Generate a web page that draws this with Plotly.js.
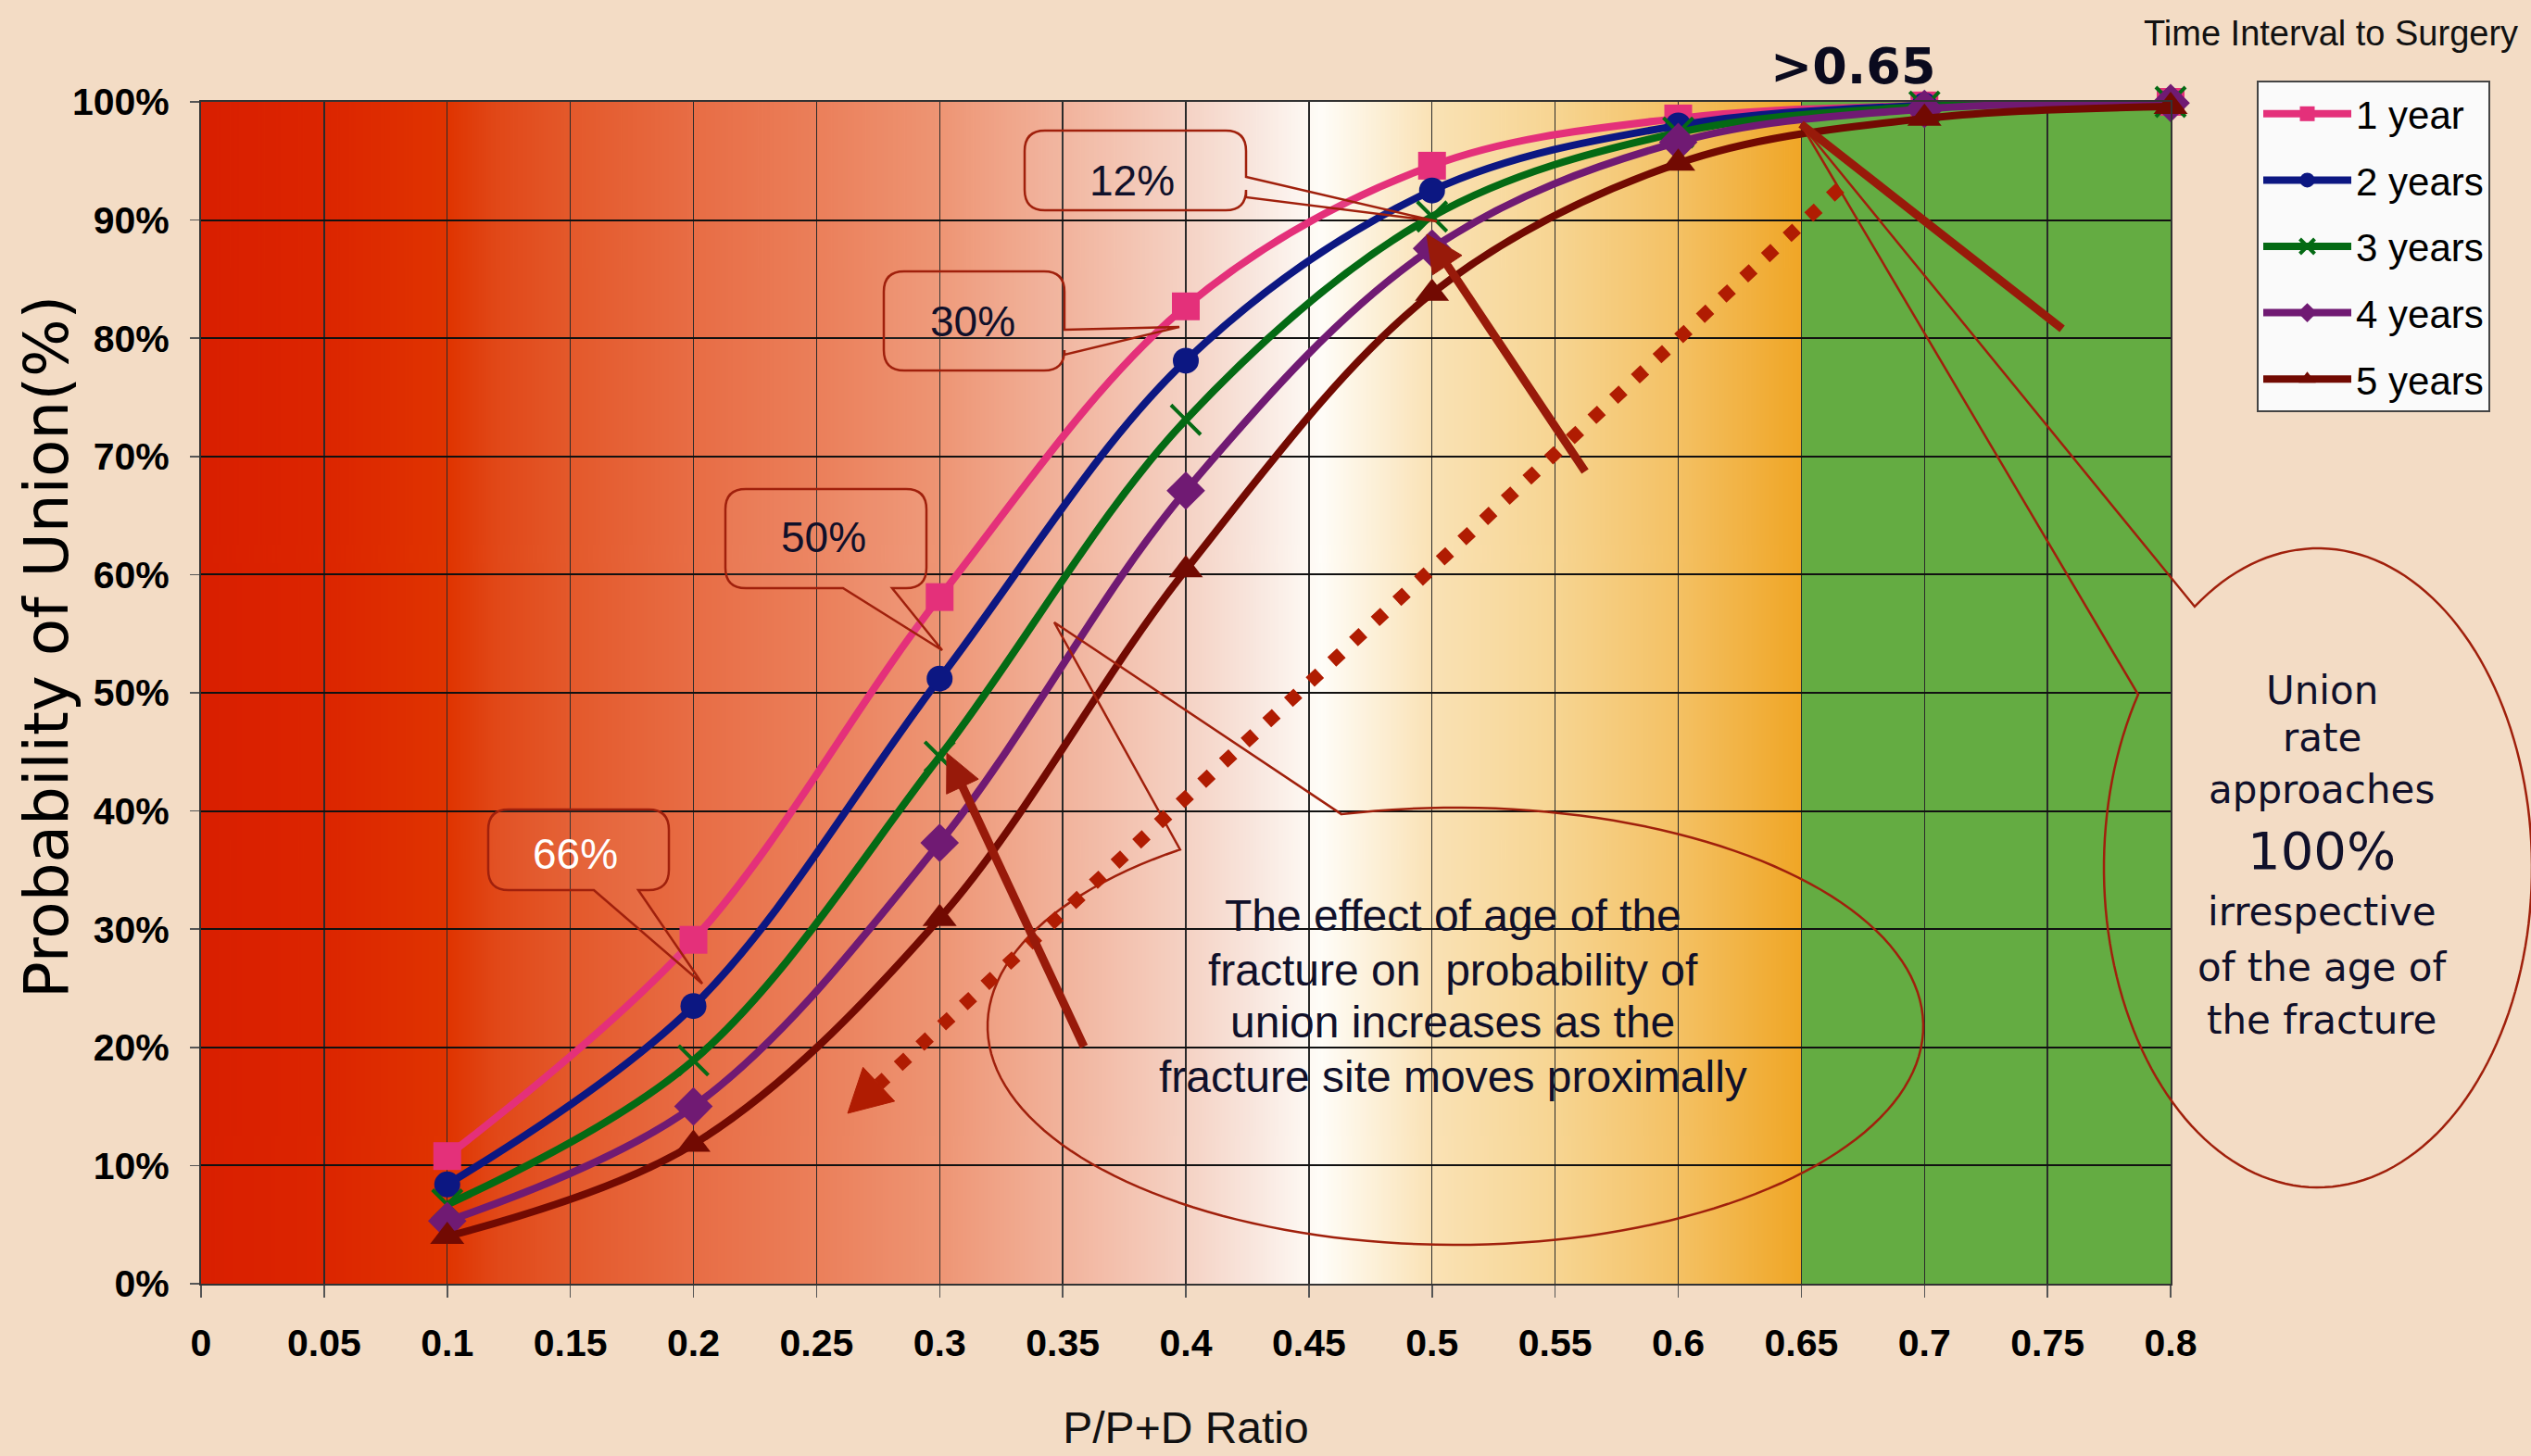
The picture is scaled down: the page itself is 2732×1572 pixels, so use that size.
<!DOCTYPE html>
<html>
<head>
<meta charset="utf-8">
<script src="https://cdn.plot.ly/plotly-3.0.1.min.js"></script>
<style>
html,body{margin:0;padding:0;background:#F3DCC5;}
#chart{width:2732px;height:1572px;}
</style>
</head>
<body>
<div id="chart"></div>
<script>
// ---------------- data ----------------
const ratio      = [0.1, 0.2, 0.3, 0.4, 0.5, 0.6, 0.7, 0.8];
const oneYear    = [10.8, 29.1, 58.1, 82.7, 94.6, 98.6, 99.7, 100];
const twoYears   = [8.4, 23.5, 51.2, 78.1, 92.5, 98.0, 99.7, 100];
const threeYears = [6.7, 18.9, 44.6, 73.1, 90.3, 97.4, 99.6, 100];
const fourYears  = [5.3, 15.0, 37.3, 67.1, 87.6, 96.6, 99.4, 99.9];
const fiveYears  = [4.0, 11.8, 30.9, 60.4, 83.8, 94.8, 98.6, 99.6];
const seriesNames = ['1 year', '2 years', '3 years', '4 years', '5 years'];

const xTickVals = [0, 0.05, 0.1, 0.15, 0.2, 0.25, 0.3, 0.35, 0.4, 0.45, 0.5, 0.55, 0.6, 0.65, 0.7, 0.75, 0.8];
const xTickText = ['0', '0.05', '0.1', '0.15', '0.2', '0.25', '0.3', '0.35', '0.4', '0.45', '0.5', '0.55', '0.6', '0.65', '0.7', '0.75', '0.8'];
const yTickVals = [0, 10, 20, 30, 40, 50, 60, 70, 80, 90, 100];
const yTickText = ['0%', '10%', '20%', '30%', '40%', '50%', '60%', '70%', '80%', '90%', '100%'];

const calloutLabels = ['12%', '30%', '50%', '66%'];
const threshold = 0.65;

// ---------------- styles ----------------
const seriesValues  = [oneYear, twoYears, threeYears, fourYears, fiveYears];
const seriesColors  = ['#E4307A', '#0C1782', '#046A14', '#701A73', '#720A02'];
const seriesSymbols = ['square', 'circle', 'x-thin', 'diamond', 'triangle-up'];
const seriesSizes   = [30, 28, 32, 32, 32];

const ARIAL  = "'Liberation Sans', Arial, sans-serif";
const WIDE   = "'DejaVu Sans', Verdana, sans-serif";
const INK = '#10102A';
const ANN = '#A0200C';
const ARROW = '#981A0A';
const DOTS = '#B01C02';

// ---------------- geometry helpers (pixel -> paper) ----------------
const M = {l: 217, r: 389, t: 110, b: 186};
const PW = 2732 - M.l - M.r;
const PH = 1572 - M.t - M.b;
const fx = x => (x - M.l) / PW;
const fy = y => (M.t + PH - y) / PH;
const toPath = cmds => cmds.map(c => c[0] + c.slice(1).map(p => fx(p[0]).toFixed(5) + ',' + fy(p[1]).toFixed(5)).join(' ')).join(' ');

function callout(x0, y0, x1, y1, r, side, a, b, tip) {
  const c = [];
  c.push(['M', [x0 + r, y0]]);
  c.push(['L', [x1 - r, y0]]);
  c.push(['Q', [x1, y0], [x1, y0 + r]]);
  if (side === 'right') { c.push(['L', [x1, a]]); c.push(['L', tip]); c.push(['L', [x1, b]]); }
  c.push(['L', [x1, y1 - r]]);
  c.push(['Q', [x1, y1], [x1 - r, y1]]);
  if (side === 'bottom') { c.push(['L', [b, y1]]); c.push(['L', tip]); c.push(['L', [a, y1]]); }
  c.push(['L', [x0 + r, y1]]);
  c.push(['Q', [x0, y1], [x0, y1 - r]]);
  c.push(['L', [x0, y0 + r]]);
  c.push(['Q', [x0, y0], [x0 + r, y0]]);
  c.push(['Z']);
  return {type: 'path', xref: 'paper', yref: 'paper', layer: 'above', path: toPath(c),
          line: {color: ANN, width: 2.5}, fillcolor: 'rgba(255,255,255,0.06)'};
}

function ellipseCallout(cx, cy, rx, ry, pStart, pEnd, tip) {
  const t0 = Math.atan2((pStart[1] - cy) / ry, (pStart[0] - cx) / rx);
  let t1 = Math.atan2((pEnd[1] - cy) / ry, (pEnd[0] - cx) / rx);
  while (t1 <= t0) t1 += 2 * Math.PI;
  const n = 160, c = [];
  for (let i = 0; i <= n; i++) {
    const t = t0 + (t1 - t0) * i / n;
    c.push([i === 0 ? 'M' : 'L', [cx + rx * Math.cos(t), cy + ry * Math.sin(t)]]);
  }
  c.push(['L', tip]);
  c.push(['Z']);
  return {type: 'path', xref: 'paper', yref: 'paper', layer: 'above', path: toPath(c),
          line: {color: ANN, width: 2.5}, fillcolor: 'rgba(0,0,0,0)'};
}

function arrow(tail, tip, width, headLen, headHalf, color, dash) {
  const dx = tip[0] - tail[0], dy = tip[1] - tail[1];
  const len = Math.hypot(dx, dy), ux = dx / len, uy = dy / len;
  const base = [tip[0] - ux * headLen, tip[1] - uy * headLen];
  const lineEnd = dash ? base : [tip[0] - ux * headLen * 0.6, tip[1] - uy * headLen * 0.6];
  const out = [{type: 'line', xref: 'paper', yref: 'paper', layer: 'above',
    x0: fx(tail[0]), y0: fy(tail[1]), x1: fx(lineEnd[0]), y1: fy(lineEnd[1]),
    line: {color: color, width: width, dash: dash || 'solid'}}];
  if (headLen > 0) {
    const l = [base[0] - uy * headHalf, base[1] + ux * headHalf];
    const r = [base[0] + uy * headHalf, base[1] - ux * headHalf];
    out.push({type: 'path', xref: 'paper', yref: 'paper', layer: 'above',
      path: toPath([['M', tip], ['L', l], ['L', r], ['Z']]),
      line: {color: color, width: 1}, fillcolor: color});
  }
  return out;
}

function note(text, x, y, font, extra) {
  return Object.assign({text: text, xref: 'paper', yref: 'paper', x: fx(x), y: fy(y),
    xanchor: 'center', yanchor: 'middle', showarrow: false, font: font}, extra || {});
}

// ---------------- background gradient image ----------------
const gradStops = [[0, '#D91F00'], [0.05, '#DC2500'], [0.1, '#E03400'], [0.12, '#E14818'], [0.15, '#E4592B'],
  [0.2, '#E86D45'], [0.25, '#EB7F5A'], [0.3, '#EE9574'], [0.35, '#F2B39C'], [0.4, '#F5D2C4'],
  [0.43, '#F9E8E0'], [0.455, '#FFFDF8'], [0.5, '#FAE2B5'], [0.55, '#F7D592'], [0.6, '#F4C164'], [0.65, '#F0A626']];
const cv = document.createElement('canvas');
cv.width = 1400; cv.height = 4;
const ctx = cv.getContext('2d');
const lg = ctx.createLinearGradient(0, 0, cv.width, 0);
gradStops.forEach(s => lg.addColorStop(s[0] / threshold, s[1]));
ctx.fillStyle = lg;
ctx.fillRect(0, 0, cv.width, cv.height);
const bgImage = cv.toDataURL('image/png');

// ---------------- traces ----------------
const traces = seriesNames.map((name, i) => ({
  type: 'scatter', mode: 'lines+markers', name: name,
  x: ratio, y: seriesValues[i],
  legendgroup: 'g' + i,
  cliponaxis: false,
  line: {color: seriesColors[i], width: 8, shape: 'spline', smoothing: 1},
  marker: {symbol: seriesSymbols[i], size: seriesSizes[i], color: seriesColors[i],
           line: {color: seriesColors[i], width: seriesSymbols[i] === 'x-thin' ? 4 : 0}}
}));

// ---------------- shapes ----------------
const shapes = [
  {type: 'rect', xref: 'x', yref: 'y', x0: threshold, x1: 0.8, y0: 0, y1: 100, layer: 'below',
   fillcolor: '#64AC42', line: {width: 0}},
  callout(1106, 141, 1345, 227, 22, 'right', 191, 213, [1551, 239]),
  callout(954, 293, 1149, 400, 22, 'right', 356, 383, [1273, 353]),
  callout(783, 528, 1000, 635, 22, 'bottom', 910, 963, [1017, 702]),
  callout(527, 874, 722, 961, 22, 'bottom', 641, 689, [758, 1062]),
  ellipseCallout(1571, 1108, 505, 236, [1448, 879], [1275, 918], [1138, 672]),
  ellipseCallout(2502, 937, 231, 345, [2369, 655], [2307, 749], [1944, 134])
].concat(
  arrow([1986, 203], [915, 1202], 14, 46, 25, DOTS, '14px,18px'),
  arrow([1170, 1130], [1022, 813], 9, 40, 19, ARROW),
  arrow([1711, 509], [1540, 253], 9, 40, 19, ARROW),
  arrow([1944, 134], [2226, 355], 9, 0, 0, ARROW)
);

// ---------------- annotations ----------------
const annotations = [
  note('Probability of Union(%)', 50, 699, {family: WIDE, size: 66, color: '#000'}, {textangle: -90}),
  note('Time Interval to Surgery', 2720, 36, {family: ARIAL, size: 38, color: '#111'}, {xanchor: 'right'}),
  note('&gt;' + threshold, 2000, 71, {family: WIDE, size: 54, color: '#0A0A1E', weight: 700}),
  note(calloutLabels[0], 1222, 195, {family: ARIAL, size: 46, color: INK}),
  note(calloutLabels[1], 1050, 347, {family: ARIAL, size: 46, color: INK}),
  note(calloutLabels[2], 889, 580, {family: ARIAL, size: 46, color: INK}),
  note(calloutLabels[3], 621, 922, {family: ARIAL, size: 46, color: '#FFFFFF'}),
  note('The effect of age of the', 1568, 988, {family: ARIAL, size: 48, color: INK}),
  note('fracture on  probability of', 1568, 1047, {family: ARIAL, size: 48, color: INK}),
  note('union increases as the', 1568, 1103, {family: ARIAL, size: 48, color: INK}),
  note('fracture site moves proximally', 1568, 1162, {family: ARIAL, size: 48, color: INK}),
  note('Union', 2506, 745, {family: WIDE, size: 42, color: INK}),
  note('rate', 2506, 796, {family: WIDE, size: 42, color: INK}),
  note('approaches', 2506, 852, {family: WIDE, size: 42, color: INK}),
  note('100%', 2506, 918, {family: WIDE, size: 56, color: INK}),
  note('irrespective', 2506, 984, {family: WIDE, size: 42, color: INK}),
  note('of the age of', 2506, 1044, {family: WIDE, size: 42, color: INK}),
  note('the fracture', 2506, 1101, {family: WIDE, size: 42, color: INK})
];

// ---------------- layout ----------------
const layout = {
  width: 2732, height: 1572,
  margin: M,
  paper_bgcolor: '#F3DCC5',
  plot_bgcolor: 'rgba(0,0,0,0)',
  showlegend: true,
  legend: {
    x: fx(2436), y: fy(87), xanchor: 'left', yanchor: 'top',
    bgcolor: '#FAFAFA', bordercolor: '#444', borderwidth: 2,
    font: {family: ARIAL, size: 42, color: '#000'},
    itemwidth: 95, tracegroupgap: 14
  },
  xaxis: {
    range: [0, 0.8], tickmode: 'array', tickvals: xTickVals, ticktext: xTickText,
    showgrid: true, gridcolor: '#2A2A2A', gridwidth: 1.3,
    showline: true, linecolor: '#333', linewidth: 2, mirror: true,
    ticks: 'outside', ticklen: 13, tickcolor: '#555', tickwidth: 1.5,
    ticklabelstandoff: 14,
    tickfont: {family: ARIAL, size: 41, color: '#000', weight: 700},
    zeroline: false,
    title: {text: 'P/P+D Ratio', font: {family: ARIAL, size: 48, color: '#111'}, standoff: 52}
  },
  yaxis: {
    range: [0, 100], tickmode: 'array', tickvals: yTickVals, ticktext: yTickText,
    showgrid: true, gridcolor: '#111', gridwidth: 2,
    showline: true, linecolor: '#333', linewidth: 2, mirror: true,
    ticks: 'outside', ticklen: 10, tickcolor: '#555', tickwidth: 1.5,
    ticklabelstandoff: 14,
    tickfont: {family: ARIAL, size: 41, color: '#000', weight: 700},
    zeroline: false
  },
  images: [{source: bgImage, xref: 'x', yref: 'y', x: 0, y: 100, sizex: threshold, sizey: 100,
            xanchor: 'left', yanchor: 'top', sizing: 'stretch', layer: 'below'}],
  shapes: shapes,
  annotations: annotations
};

Plotly.newPlot('chart', traces, layout, {staticPlot: true, displayModeBar: false});
</script>
</body>
</html>
